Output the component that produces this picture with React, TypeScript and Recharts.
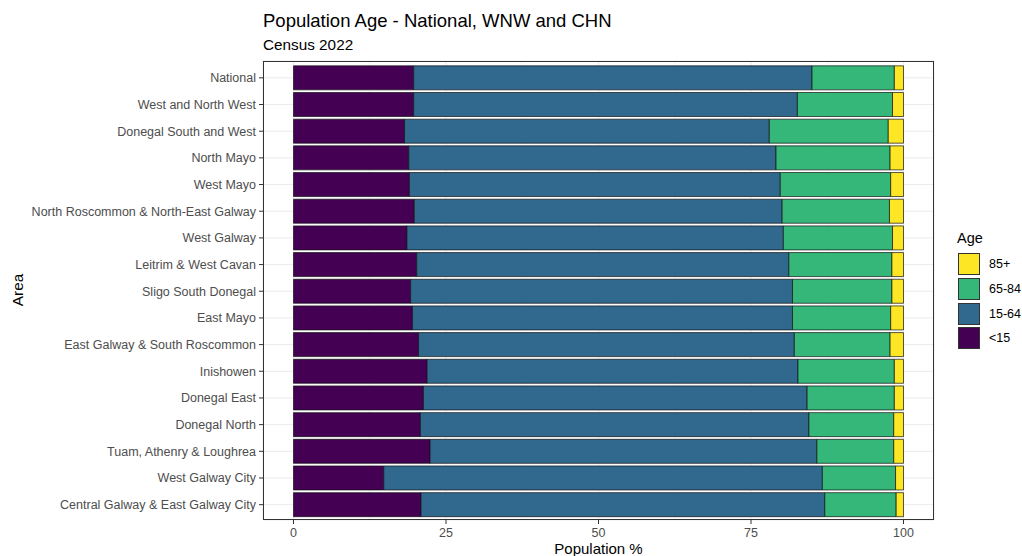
import React from 'react';
import { BarChart, Bar, XAxis, YAxis, CartesianGrid } from 'recharts';

// areas, top to bottom
const areas = [
    'National',
    'West and North West',
    'Donegal South and West',
    'North Mayo',
    'West Mayo',
    'North Roscommon & North-East Galway',
    'West Galway',
    'Leitrim & West Cavan',
    'Sligo South Donegal',
    'East Mayo',
    'East Galway & South Roscommon',
    'Inishowen',
    'Donegal East',
    'Donegal North',
    'Tuam, Athenry & Loughrea',
    'West Galway City',
    'Central Galway & East Galway City'
];

// share of population (%) by age group
const under15 = [19.7, 19.7, 18.2, 18.9, 19.0, 19.8, 18.6, 20.2, 19.2, 19.5, 20.5, 21.9, 21.3, 20.8, 22.4, 14.8, 20.9];
const age15to64 = [65.3, 62.9, 59.8, 60.2, 60.8, 60.3, 61.7, 61.0, 62.6, 62.3, 61.6, 60.8, 62.9, 63.7, 63.4, 71.9, 66.2];
const age65to84 = [13.5, 15.6, 19.5, 18.7, 18.1, 17.6, 17.9, 16.9, 16.3, 16.1, 15.7, 15.8, 14.3, 13.9, 12.6, 12.0, 11.7];
const age85plus = [1.5, 1.8, 2.5, 2.2, 2.1, 2.3, 1.8, 1.9, 1.9, 2.1, 2.2, 1.5, 1.5, 1.6, 1.6, 1.3, 1.2];

const xDomain = [-5, 105];
const xTicks = [0, 25, 50, 75, 100];
const minorTicks = [12.5, 37.5, 62.5, 87.5];

const series = [
    { key: 'u15', label: '<15', color: '#440154' },
    { key: 'a1564', label: '15-64', color: '#31688E' },
    { key: 'a6584', label: '65-84', color: '#35B779' },
    { key: 'a85', label: '85+', color: '#FDE725' }
];

const data = areas.map((area, i) => ({
    area,
    u15: under15[i],
    a1564: age15to64[i],
    a6584: age65to84[i],
    a85: age85plus[i]
}));

const font = '"Liberation Sans", Arial, sans-serif';

function AreaTick(props: any) {
    const { x, y, payload } = props;
    return (
        <text x={x} y={y} dy="0.355em" textAnchor="end" fontSize={12.5} fill="#4D4D4D">
            {payload.value}
        </text>
    );
}

function AgeLegend() {
    return (
        <div style={{ position: 'absolute', left: 957, top: 230, fontFamily: font }}>
            <div style={{ fontSize: 14.5, color: '#000', marginBottom: 6 }}>Age</div>
            {[...series].reverse().map((s) => (
                <div key={s.key} style={{ display: 'flex', alignItems: 'center', height: 24.7 }}>
                    <div style={{ width: 22, height: 22, background: s.color, border: '1px solid #333', boxSizing: 'border-box', marginLeft: 1 }} />
                    <span style={{ fontSize: 12.5, color: '#000', marginLeft: 9 }}>{s.label}</span>
                </div>
            ))}
        </div>
    );
}

// minor gridlines between the labelled ticks, placed along the x domain
const minorGrid = ({ offset }: any) =>
    minorTicks.map((t) => offset.left + ((t - xDomain[0]) / (xDomain[1] - xDomain[0])) * offset.width);

export default function App() {
    return (
        <div style={{ position: 'absolute', left: 0, top: 0, width: 1022, height: 556, background: '#fff', fontFamily: font, overflow: 'hidden' }}>
            <div style={{ position: 'absolute', left: 263, top: 10, fontSize: 18.5, color: '#000' }}>Population Age - National, WNW and CHN</div>
            <div style={{ position: 'absolute', left: 263, top: 36, fontSize: 15.3, color: '#000' }}>Census 2022</div>

            <BarChart
                width={1022}
                height={556}
                data={data}
                layout="vertical"
                margin={{ top: 61, right: 88, bottom: 0, left: 0 }}
                barCategoryGap="5%"
            >
                <CartesianGrid stroke="#EBEBEB" strokeWidth={0.5} horizontal={false} verticalCoordinatesGenerator={minorGrid} />
                <CartesianGrid stroke="#EBEBEB" strokeWidth={1} />
                <XAxis
                    type="number"
                    domain={xDomain}
                    ticks={xTicks}
                    allowDataOverflow
                    height={36}
                    axisLine={false}
                    tickSize={4}
                    tickMargin={4.5}
                    tickLine={{ stroke: '#333' }}
                    tick={{ fontSize: 12.5, fill: '#4D4D4D' }}
                />
                <YAxis
                    type="category"
                    dataKey="area"
                    width={263}
                    axisLine={false}
                    padding={{ top: 3.5, bottom: 2 }}
                    tickSize={4}
                    tickMargin={3}
                    tickLine={{ stroke: '#333' }}
                    tick={<AreaTick />}
                    interval={0}
                />
                {series.map((s) => (
                    <Bar
                        key={s.key}
                        dataKey={s.key}
                        name={s.label}
                        stackId="age"
                        fill={s.color}
                        stroke="#111"
                        strokeWidth={0.7}
                        isAnimationActive={false}
                    />
                ))}
            </BarChart>

            {/* panel border */}
            <div style={{ position: 'absolute', left: 263, top: 61, width: 671, height: 459, border: '1px solid #333', boxSizing: 'border-box', pointerEvents: 'none' }} />

            <div style={{ position: 'absolute', left: 0, width: 1197, top: 542, lineHeight: '14px', textAlign: 'center', fontSize: 15, color: '#000' }}>Population %</div>
            <div style={{ position: 'absolute', left: 18, top: 290, transform: 'translate(-50%, -50%) rotate(-90deg)', fontSize: 15.3, color: '#000' }}>Area</div>

            <AgeLegend />
        </div>
    );
}
